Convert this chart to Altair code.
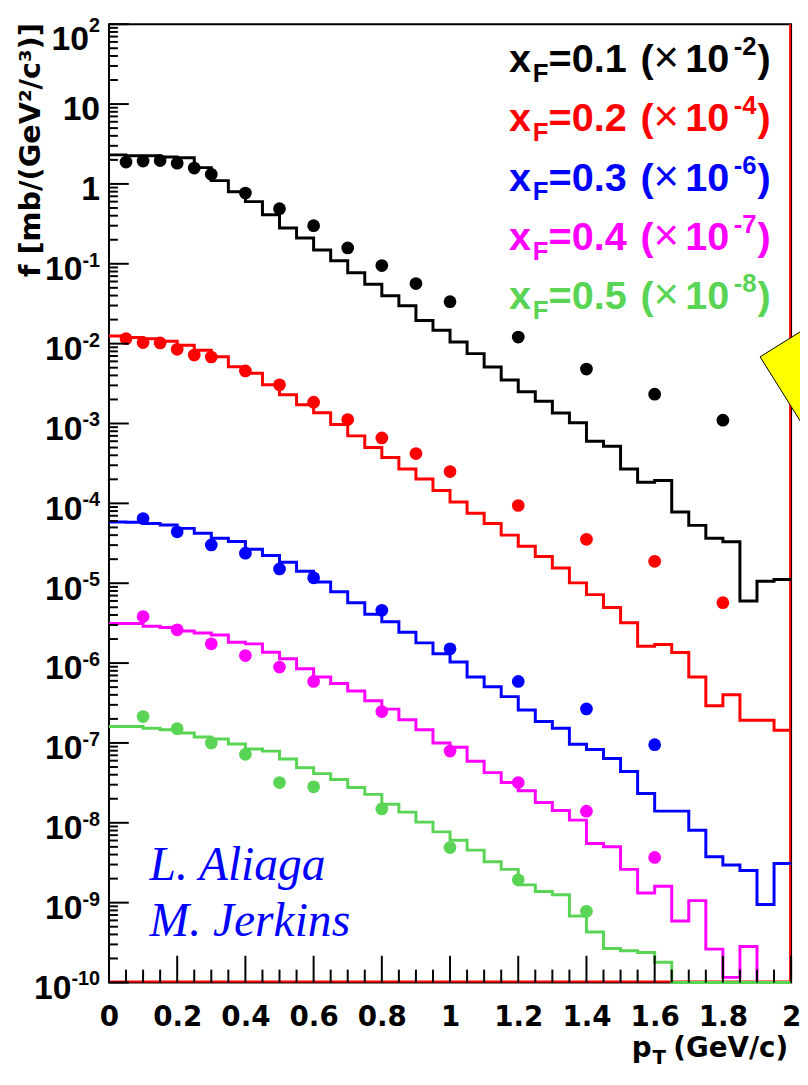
import json
import altair as alt
import pandas as pd

# ---------------- data (values as drawn, i.e. already multiplied by the legend factor) -------------
SERIES = ["0.1", "0.2", "0.3", "0.4", "0.5"]
SCALE_EXPONENT = ["-2", "-4", "-6", "-7", "-8"]
COLORS = ["#000000", "#ff0000", "#0000ff", "#ff00ff", "#59d454"]

BIN_LOW = [0.00, 0.05, 0.10, 0.15, 0.20, 0.25, 0.30, 0.35, 0.40, 0.45,
           0.50, 0.55, 0.60, 0.65, 0.70, 0.75, 0.80, 0.85, 0.90, 0.95,
           1.00, 1.05, 1.10, 1.15, 1.20, 1.25, 1.30, 1.35, 1.40, 1.45,
           1.50, 1.55, 1.60, 1.65, 1.70, 1.75, 1.80, 1.85, 1.90, 1.95]
BIN_END = 2.0

HIST_XF01 = [2.31, 2.25, 2.25, 2.18, 2.12, 1.60, 1.10, 0.80, 0.60, 0.41,
             0.28, 0.21, 0.149, 0.109, 0.0774, 0.0554, 0.0398, 0.0299, 0.0195, 0.0147,
             0.0105, 0.0075, 0.0051, 0.0035, 0.0025, 0.0019, 0.00135, 0.00102, 0.00060, 0.00052,
             0.00027, 0.000184, 0.000193, 7.8e-5, 5.3e-5, 3.65e-5, 3.3e-5, 6.0e-6, 1.06e-5, 1.11e-5]
HIST_XF02 = [0.01245, 0.0119, 0.0115, 0.0107, 0.00955, 0.00828, 0.00684, 0.00514, 0.00425, 0.00305,
             0.00229, 0.00172, 0.00136, 0.00097, 0.00070, 0.00050, 0.000375, 0.000269, 0.000202, 0.000145,
             0.000104, 7.5e-5, 5.6e-5, 4.0e-5, 2.9e-5, 2.16e-5, 1.55e-5, 1.01e-5, 7.2e-6, 4.95e-6,
             3.2e-6, 1.62e-6, 1.71e-6, 1.36e-6, 6.7e-7, 2.92e-7, 4.0e-7, 1.92e-7, 1.92e-7, 1.44e-7]
HIST_XF03 = [5.86e-5, 5.8e-5, 5.6e-5, 5.35e-5, 4.86e-5, 4.22e-5, 3.66e-5, 3.32e-5, 2.67e-5, 2.23e-5,
             1.83e-5, 1.41e-5, 1.035e-5, 7.8e-6, 5.7e-6, 4.1e-6, 3.3e-6, 2.43e-6, 1.79e-6, 1.31e-6,
             1.03e-6, 6.7e-7, 5.05e-7, 3.8e-7, 2.59e-7, 1.86e-7, 1.53e-7, 9.6e-8, 8.3e-8, 6.4e-8,
             4.4e-8, 2.33e-8, 1.40e-8, 1.40e-8, 8.05e-9, 3.76e-9, 2.96e-9, 2.52e-9, 9.5e-10, 3.1e-9]
HIST_XF04 = [3.14e-6, 3.14e-6, 2.9e-6, 2.79e-6, 2.52e-6, 2.38e-6, 2.25e-6, 1.82e-6, 1.74e-6, 1.37e-6,
             1.13e-6, 8.5e-7, 6.7e-7, 5.55e-7, 4.48e-7, 3.37e-7, 2.65e-7, 1.95e-7, 1.46e-7, 1.0e-7,
             8.85e-8, 5.9e-8, 4.25e-8, 3.19e-8, 2.52e-8, 1.8e-8, 1.43e-8, 1.08e-8, 5.5e-9, 5.0e-9,
             2.61e-9, 1.32e-9, 1.6e-9, 5.9e-10, 1.06e-9, 2.62e-10, 1.16e-10, 2.82e-10, 0.0, 0.0]
HIST_XF05 = [1.61e-7, 1.61e-7, 1.53e-7, 1.46e-7, 1.33e-7, 1.19e-7, 1.12e-7, 9.7e-8, 8.4e-8, 7.9e-8,
             6.3e-8, 4.9e-8, 4.13e-8, 3.48e-8, 2.77e-8, 2.27e-8, 1.71e-8, 1.36e-8, 1.02e-8, 7.7e-9,
             6.05e-9, 4.55e-9, 3.26e-9, 2.61e-9, 1.67e-9, 1.38e-9, 1.26e-9, 6.8e-10, 4.3e-10, 2.67e-10,
             2.5e-10, 2.38e-10, 1.79e-10, 0.0, 0.0, 0.0, 0.0, 0.0, 0.0, 0.0]

PT_A = [0.05, 0.10, 0.15, 0.20, 0.25, 0.30, 0.40, 0.50, 0.60, 0.70, 0.80, 0.90, 1.00, 1.20, 1.40, 1.60, 1.80]
PT_B = [0.10, 0.20, 0.30, 0.40, 0.50, 0.60, 0.80, 1.00, 1.20, 1.40, 1.60]
PT_C = [0.10, 0.20, 0.30, 0.40, 0.50, 0.60, 0.80, 1.00, 1.20, 1.40]

DATA_XF01 = [1.88, 1.93, 1.96, 1.82, 1.58, 1.32, 0.77, 0.49, 0.30, 0.158, 0.095, 0.0565, 0.0335,
             0.0121, 0.0048, 0.00233, 0.0011]
DATA_XF02 = [0.01153, 0.0103, 0.0102, 0.0085, 0.0072, 0.0068, 0.00455, 0.00305, 0.00185, 0.00112,
             0.00066, 0.00042, 0.00025, 9.4e-5, 3.55e-5, 1.88e-5, 5.7e-6]
DATA_XF03 = [6.46e-5, 4.4e-5, 3.02e-5, 2.38e-5, 1.51e-5, 1.17e-5, 4.58e-6, 1.51e-6, 5.9e-7, 2.67e-7, 9.5e-8]
DATA_XF04 = [3.83e-6, 2.61e-6, 1.74e-6, 1.24e-6, 8.9e-7, 5.9e-7, 2.47e-7, 7.9e-8, 3.19e-8, 1.40e-8, 3.68e-9]
DATA_XF05 = [2.14e-7, 1.51e-7, 1.0e-7, 7.2e-8, 3.19e-8, 2.82e-8, 1.49e-8, 4.9e-9, 1.93e-9, 7.8e-10]

X_TICKS = [0.0, 0.2, 0.4, 0.6, 0.8, 1.0, 1.2, 1.4, 1.6, 1.8, 2.0]
X_TICK_LABELS = ["0", "0.2", "0.4", "0.6", "0.8", "1", "1.2", "1.4", "1.6", "1.8", "2"]
X_MINOR = [0.05, 0.10, 0.15, 0.25, 0.30, 0.35, 0.45, 0.50, 0.55, 0.65, 0.70, 0.75,
           0.85, 0.90, 0.95, 1.05, 1.10, 1.15, 1.25, 1.30, 1.35, 1.45, 1.50, 1.55,
           1.65, 1.70, 1.75, 1.85, 1.90, 1.95]
Y_TICKS = [1e2, 1e1, 1e0, 1e-1, 1e-2, 1e-3, 1e-4, 1e-5, 1e-6, 1e-7, 1e-8, 1e-9, 1e-10]
Y_TICK_BASE = ["10", "10", "1", "10", "10", "10", "10", "10", "10", "10", "10", "10", "10"]
Y_TICK_EXP = ["2", "", "", "-1", "-2", "-3", "-4", "-5", "-6", "-7", "-8", "-9", "-10"]
Y_MINOR = [m * 10.0 ** k for k in range(-10, 2) for m in range(2, 10)]

AUTHORS = ["L. Aliaga", "M. Jerkins"]
Y_TITLE = "f [mb/(GeV\u00b2/c\u00b3)]"

HISTS = [HIST_XF01, HIST_XF02, HIST_XF03, HIST_XF04, HIST_XF05]
POINT_X = [PT_A, PT_A, PT_B, PT_B, PT_C]
POINT_Y = [DATA_XF01, DATA_XF02, DATA_XF03, DATA_XF04, DATA_XF05]

# ---------------- layout / style ----------------
YMIN, YMAX = 1e-10, 1e2
W, H = 689, 968
SANS = "DejaVu Sans"
HELV = "Liberation Sans"
XS = alt.Scale(domain=[0, 2], nice=False, zero=False)
YS = alt.Scale(type="log", domain=[YMIN, YMAX], nice=False)

X_AXIS = alt.Axis(values=X_TICKS,
                  labelExpr=json.dumps(X_TICK_LABELS) + "[round(datum.value*5)]",
                  labelFont=SANS, labelFontWeight="bold", labelFontSize=28, labelColor="black",
                  labelPadding=21, labelFlush=False, labelOverlap=False,
                  ticks=False, domain=False, grid=False, title=None)


def xq(field):
    return alt.X(field, type="quantitative", scale=XS, axis=X_AXIS)


def yq(field):
    return alt.Y(field, type="quantitative", scale=YS, axis=None)


def xd(v):
    return alt.XDatum(v, scale=XS, axis=X_AXIS)


def yd(v):
    return alt.YDatum(v, scale=YS, axis=None)


one = pd.DataFrame({"d": [0]})
layers = []

# edge lines of the red histogram along the frame
layers.append(alt.Chart(one).mark_rule(color="#ff0000", strokeWidth=2, yOffset=-1)
              .encode(x=xd(0), x2=alt.datum(2), y=yd(YMIN)))
layers.append(alt.Chart(one).mark_rule(color="#ff0000", strokeWidth=2, xOffset=-1)
              .encode(x=xd(2), y=yd(YMIN), y2=alt.datum(YMAX)))

# histograms (step outlines)
for vals, col in zip(HISTS, COLORS):
    df = pd.DataFrame({"pt": BIN_LOW + [BIN_END],
                       "f": [max(v, YMIN) for v in vals] + [max(vals[-1], YMIN)]})
    layers.append(alt.Chart(df).mark_line(interpolate="step-after", color=col, strokeWidth=3)
                  .encode(x=xq("pt"), y=yq("f")))

# data points
for xs, ys, col in zip(POINT_X, POINT_Y, COLORS):
    df = pd.DataFrame({"pt": xs, "f": ys})
    layers.append(alt.Chart(df).mark_circle(size=165, color=col, opacity=1)
                  .encode(x=xq("pt"), y=yq("f")))

# inward ticks
layers.append(alt.Chart(pd.DataFrame({"pt": X_TICKS})).mark_rule(color="black", strokeWidth=2, y2Offset=-27)
              .encode(x=xq("pt"), y=yd(YMIN), y2=alt.datum(YMIN)))
layers.append(alt.Chart(pd.DataFrame({"pt": X_MINOR})).mark_rule(color="black", strokeWidth=2, y2Offset=-13)
              .encode(x=xq("pt"), y=yd(YMIN), y2=alt.datum(YMIN)))
layers.append(alt.Chart(pd.DataFrame({"f": Y_TICKS})).mark_rule(color="black", strokeWidth=2, x2Offset=20)
              .encode(y=yq("f"), x=xd(0), x2=alt.datum(0)))
layers.append(alt.Chart(pd.DataFrame({"f": Y_MINOR})).mark_rule(color="black", strokeWidth=2, x2Offset=9)
              .encode(y=yq("f"), x=xd(0), x2=alt.datum(0)))


def tick_label(txt, v, dx, dy, size):
    return (alt.Chart(one)
            .mark_text(text=txt, align="right", baseline="middle", dx=dx, dy=dy, font=HELV,
                       fontWeight="bold", fontSize=size, color="black")
            .encode(x=xd(0), y=yd(v)))


# y tick labels: base "10"/"1" plus raised exponent
EXP_SIZE = 20
BASE_SIZE = 34
ADV = {"-": 0.333}
for v, base, ex in zip(Y_TICKS, Y_TICK_BASE, Y_TICK_EXP):
    top = v == YMAX
    if ex == "":
        layers.append(tick_label(base, v, -9, 6.5, BASE_SIZE))
    else:
        w = sum(ADV.get(c, 0.556) for c in ex) * EXP_SIZE
        layers.append(tick_label(ex, v, -9, -3 + (5 if top else 0), EXP_SIZE))
        layers.append(tick_label(base, v, -9 - w, 6.5 + (10 if top else 0), BASE_SIZE))


def label(txt, px, py, size, color="black", weight="bold", font=SANS, style="normal",
          align="left", baseline="alphabetic", angle=0):
    return (alt.Chart(one)
            .mark_text(text=txt, align=align, baseline=baseline, font=font, fontSize=size,
                       fontWeight=weight, fontStyle=style, color=color, angle=angle)
            .encode(x=alt.value(px), y=alt.value(py)))


# legend
for i, (xf, ex, col) in enumerate(zip(SERIES, SCALE_EXPONENT, COLORS)):
    yb = 48 + 60 * i
    layers += [
        label("x", 404, yb, 40, col, font=HELV),
        label("F", 428, yb + 10, 26, col, font=HELV),
        label("=" + xf, 444, yb, 40, col, font=HELV),
        label("(", 537, yb, 40, col, font=HELV),
        label("\u00d7", 550, yb, 44, col, weight="normal", font=HELV),
        label("10", 582, yb, 40, col, font=HELV),
        label(ex, 631, yb - 17, 26, col, font=HELV),
        label(")", 655, yb, 40, col, font=HELV),
    ]

# authors
layers.append(label(AUTHORS[0], 41, 864, 48, "#0000ff", weight="normal", font="Liberation Serif", style="italic"))
layers.append(label(AUTHORS[1], 41, 921, 48, "#0000ff", weight="normal", font="Liberation Serif", style="italic"))

# axis titles
layers.append(label(Y_TITLE, -79, -1, 29, angle=270, align="right", baseline="middle"))
layers.append(label("p", 528, 1043, 28))
layers.append(label("T", 549, 1050, 20))
layers.append(label("(GeV/c)", 570, 1043, 28))

# yellow call-out corner at the right edge
layers.append(alt.Chart(one)
              .mark_point(shape="M0,0 L0.848,-0.530 L1.378,0.318 L0.530,0.848 Z", size=90000,
                          filled=True, fill="#ffff00", stroke="black", strokeWidth=1, opacity=1,
                          fillOpacity=1)
              .encode(x=alt.value(657.7), y=alt.value(336)))

chart = (alt.layer(*layers)
         .properties(width=W, height=H, background="white",
                     autosize=alt.AutoSizeParams(type="none"),
                     padding={"left": 102, "top": 11, "right": 9, "bottom": 83})
         .configure_view(stroke="black", strokeWidth=2))

chart.save("out.html", embed_options={"renderer": "svg", "actions": False})
